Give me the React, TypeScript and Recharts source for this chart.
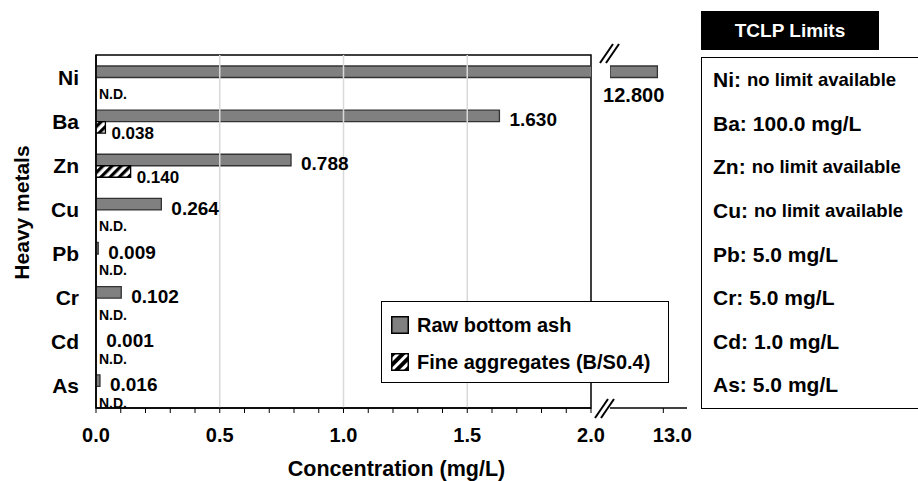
import { BarChart, Bar, XAxis, YAxis, ReferenceLine, ReferenceArea, LabelList } from "recharts"

// leaching concentrations (mg/L)
const metals = ["Ni", "Ba", "Zn", "Cu", "Pb", "Cr", "Cd", "As"]
const rawAsh = [12.8, 1.63, 0.788, 0.264, 0.009, 0.102, 0.001, 0.016]
const fineAgg: (number | null)[] = [null, 0.038, 0.14, null, null, null, null, null]
const seriesNames = ["Raw bottom ash", "Fine aggregates (B/S0.4)"]
const tclpLimits = [
  "no limit available",
  "100.0 mg/L",
  "no limit available",
  "no limit available",
  "5.0 mg/L",
  "5.0 mg/L",
  "1.0 mg/L",
  "5.0 mg/L",
]

const xTicks = [0, 0.1, 0.2, 0.3, 0.4, 0.5, 0.6, 0.7, 0.8, 0.9, 1.0, 1.1, 1.2, 1.3, 1.4, 1.5, 1.6, 1.7, 1.8, 1.9, 2.0]
const gridX = [0.5, 1.0, 1.5]
const breakTicks = [13]
const AXIS_MAX = 2
const BREAK_DOMAIN = [11.2, 13.8]

const rows = metals.map((m, i) => ({
  metal: m,
  raw: rawAsh[i],
  fine: fineAgg[i] ?? 0,
  rawBreak: rawAsh[i] > AXIS_MAX ? rawAsh[i] : null,
  spacer: 0,
}))

const FONT = '"Liberation Sans", Arial, Helvetica, sans-serif'
const txt = { fontFamily: FONT, fontWeight: 700, fill: "#000" }

const box = (p: any) => {
  const vb = p.viewBox ?? {}
  return {
    x: p.x ?? vb.x,
    y: p.y ?? vb.y,
    width: p.width ?? vb.width,
    height: p.height ?? vb.height,
  }
}

// raw bars exist for every metal, so they also carry the "N.D." marks of the fine series
const RawLabel = (props: any) => {
  const v = Number(props.value)
  const { x, y, width, height } = box(props)
  const nd = fineAgg[props.index] == null
  return (
    <g>
      {v <= AXIS_MAX && (
        <text x={x + width + 10} y={y + height - 2} dy="0.35em" fontSize={19} style={txt}>
          {v.toFixed(3)}
        </text>
      )}
      {nd && (
        <text x={x + 3} y={y + 2 * height + 5} dy="0.35em" fontSize={14} style={txt}>
          N.D.
        </text>
      )}
    </g>
  )
}

const FineLabel = (props: any) => {
  const v = Number(props.value)
  if (!v) return null
  const { x, y, width, height } = box(props)
  return (
    <text x={x + width + 6} y={y + height} dy="0.35em" fontSize={17} style={txt}>
      {v.toFixed(3)}
    </text>
  )
}

const BreakLabel = (props: any) => {
  const v = Number(props.value)
  if (!v || v <= AXIS_MAX) return null
  const { x, y, width, height } = box(props)
  return (
    <text x={x + width / 2} y={y + height + 17} dy="0.35em" textAnchor="middle" fontSize={20} style={txt}>
      {v.toFixed(3)}
    </text>
  )
}

const Swatch = ({ hatch }: { hatch: boolean }) => (
  <svg width={18} height={18} style={{ display: "block" }}>
    <defs>
      <pattern id="hatchLegend" patternUnits="userSpaceOnUse" width="7" height="7" patternTransform="rotate(45)">
        <rect width="7" height="7" fill="#fff" />
        <line x1="2" y1="0" x2="2" y2="7" stroke="#000" strokeWidth="4" />
      </pattern>
    </defs>
    <rect x={0.75} y={0.75} width={16.5} height={16.5} fill={hatch ? "url(#hatchLegend)" : "#808080"} stroke="#000" strokeWidth={1.5} />
  </svg>
)

const App = () => {
  return (
    <div style={{ position: "absolute", left: 0, top: 0, width: 918, height: 481, overflow: "hidden", background: "#fff", fontFamily: FONT }}>
      <div style={{ position: "absolute", left: 0, top: 0 }}>
        <BarChart
          width={620}
          height={481}
          data={rows}
          layout="vertical"
          margin={{ top: 55, right: 29, bottom: 33, left: 0 }}
          barGap={0}
          barSize={11.5}
        >
          <defs>
            <pattern id="hatch" patternUnits="userSpaceOnUse" width="6.5" height="6.5" patternTransform="rotate(45)">
              <rect width="6.5" height="6.5" fill="#fff" />
              <line x1="1.6" y1="0" x2="1.6" y2="6.5" stroke="#000" strokeWidth="3.2" />
            </pattern>
          </defs>
          {gridX.map((g) => (
            <ReferenceLine key={g} x={g} stroke="#d9d9d9" strokeWidth={1.5} />
          ))}
          <ReferenceArea x1={0} x2={AXIS_MAX} fill="none" stroke="#000" strokeWidth={1.5} />
          <XAxis
            type="number"
            domain={[0, AXIS_MAX]}
            allowDataOverflow
            ticks={xTicks}
            interval={0}
            tickFormatter={(v: number) => (Math.round(v * 10) % 5 === 0 ? v.toFixed(1) : "")}
            height={40}
            tickSize={5}
            tickMargin={15}
            axisLine={{ stroke: "#000", strokeWidth: 1.5 }}
            tickLine={{ stroke: "#000" }}
            tick={{ ...txt, fontSize: 20 }}
            label={(p: any) => (
              <text
                x={p.viewBox.x + p.viewBox.width / 2 + 53}
                y={p.viewBox.y + 60}
                dy="0.35em"
                textAnchor="middle"
                fontSize={21.5}
                style={txt}
              >
                Concentration (mg/L)
              </text>
            )}
          />
          <YAxis
            type="category"
            dataKey="metal"
            width={96}
            tickLine={false}
            tickSize={0}
            tickMargin={17}
            axisLine={{ stroke: "#000", strokeWidth: 1.5 }}
            tick={{ ...txt, fontSize: 21 }}
            label={(p: any) => {
              const cx = p.viewBox.x + 22
              const cy = p.viewBox.y + p.viewBox.height / 2 - 19
              return (
                <text x={cx} y={cy} dy="0.35em" textAnchor="middle" transform={`rotate(-90 ${cx} ${cy})`} fontSize={21} style={txt}>
                  Heavy metals
                </text>
              )
            }}
          />
          <Bar dataKey="raw" name={seriesNames[0]} fill="#808080" stroke="#333" strokeWidth={1.3} isAnimationActive={false}>
            <LabelList dataKey="raw" content={RawLabel} />
          </Bar>
          <Bar dataKey="fine" name={seriesNames[1]} fill="url(#hatch)" stroke="#000" strokeWidth={1.3} isAnimationActive={false}>
            <LabelList dataKey="fine" content={FineLabel} />
          </Bar>
        </BarChart>
      </div>

      {/* broken-axis segment */}
      <div style={{ position: "absolute", left: 600, top: 0 }}>
        <BarChart
          width={100}
          height={481}
          data={rows}
          layout="vertical"
          margin={{ top: 55, right: 13, bottom: 33, left: 10 }}
          barGap={0}
          barSize={11.5}
        >
          <XAxis
            type="number"
            domain={BREAK_DOMAIN}
            allowDataOverflow
            ticks={breakTicks}
            interval={0}
            height={40}
            tickSize={5}
            tickMargin={15}
            axisLine={{ stroke: "#000", strokeWidth: 1.5 }}
            tickLine={{ stroke: "#000" }}
            tick={(p: any) => (
              <text x={p.x + 9} y={p.y} dy="0.71em" textAnchor="middle" fontSize={20} style={txt}>
                {Number(p.payload.value).toFixed(1)}
              </text>
            )}
          />
          <XAxis
            xAxisId="top"
            orientation="top"
            type="number"
            domain={BREAK_DOMAIN}
            height={0}
            tick={false}
            tickLine={false}
            axisLine={{ stroke: "#000", strokeWidth: 1.5 }}
          />
          <YAxis
            type="category"
            dataKey="metal"
            orientation="right"
            width={0}
            tick={false}
            tickLine={false}
            axisLine={{ stroke: "#000", strokeWidth: 1.5 }}
          />
          <Bar dataKey="rawBreak" fill="#808080" stroke="#333" strokeWidth={1.3} isAnimationActive={false}>
            <LabelList dataKey="rawBreak" content={BreakLabel} />
          </Bar>
          <Bar dataKey="spacer" fill="none" isAnimationActive={false} />
        </BarChart>
      </div>

      {/* axis break marks */}
      <svg width={918} height={481} style={{ position: "absolute", left: 0, top: 0, pointerEvents: "none" }}>
        <g stroke="#000" strokeWidth={2}>
          <line x1={600} y1={63} x2={613} y2={44} />
          <line x1={606} y1={63} x2={619} y2={44} />
          <line x1={595} y1={418} x2={608} y2={399} />
          <line x1={601} y1={418} x2={614} y2={399} />
        </g>
      </svg>

      {/* legend */}
      <div
        style={{
          position: "absolute",
          left: 381,
          top: 301,
          width: 288,
          height: 82,
          border: "1.5px solid #000",
          boxSizing: "border-box",
          background: "#fff",
        }}
      >
        {seriesNames.map((s, i) => (
          <div
            key={s}
            style={{
              position: "absolute",
              left: 9,
              top: i === 0 ? 13 : 50,
              height: 20,
              display: "flex",
              alignItems: "center",
              gap: 8,
              fontSize: 20,
              fontWeight: 700,
              whiteSpace: "nowrap",
            }}
          >
            <Swatch hatch={i === 1} />
            <span>{s}</span>
          </div>
        ))}
      </div>

      {/* TCLP limits panel */}
      <div
        style={{
          position: "absolute",
          left: 701,
          top: 11,
          width: 178,
          height: 39,
          background: "#000",
          color: "#fff",
          display: "flex",
          alignItems: "center",
          justifyContent: "center",
          fontSize: 19,
          fontWeight: 700,
        }}
      >
        TCLP Limits
      </div>
      <div
        style={{
          position: "absolute",
          left: 701,
          top: 57,
          width: 240,
          height: 352,
          border: "1.5px solid #000",
          boxSizing: "border-box",
          paddingTop: 0.5,
        }}
      >
        {metals.map((m, i) => (
          <div
            key={m}
            style={{
              height: 43.6,
              display: "flex",
              alignItems: "center",
              paddingLeft: 11,
              fontWeight: 700,
              whiteSpace: "nowrap",
            }}
          >
            <span style={{ fontSize: 21 }}>{m}:</span>
            <span style={{ fontSize: tclpLimits[i].startsWith("no") ? 18.5 : 21, marginLeft: 6 }}>{tclpLimits[i]}</span>
          </div>
        ))}
      </div>
    </div>
  )
}

export default App
